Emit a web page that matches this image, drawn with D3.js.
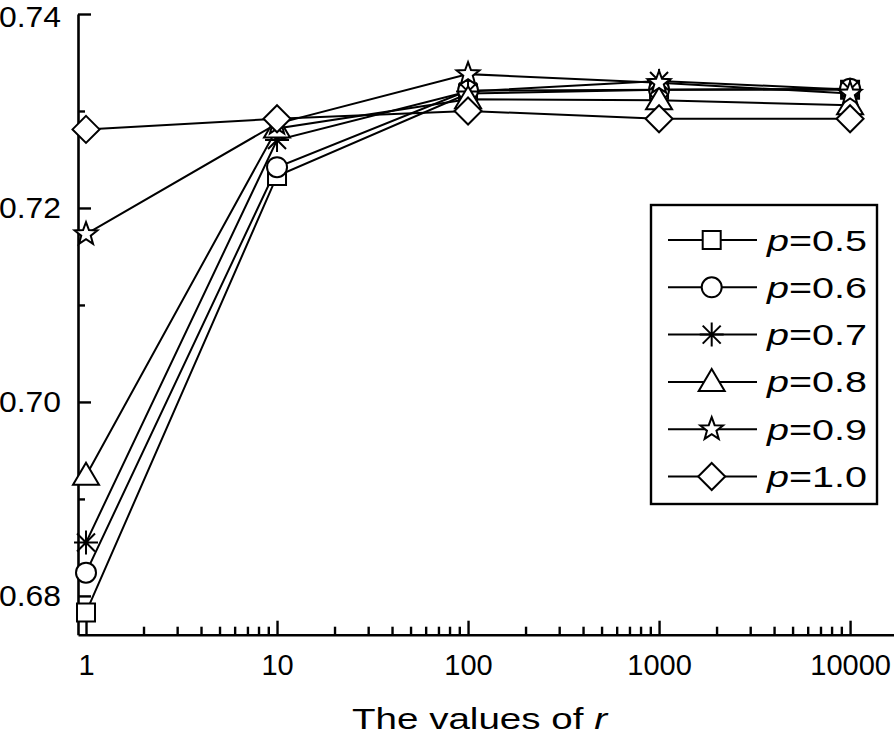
<!DOCTYPE html>
<html><head><meta charset="utf-8">
<script src="https://cdn.jsdelivr.net/npm/d3@7"></script>
<style>
body{margin:0;background:#fff;}
svg{display:block;font-family:"Liberation Sans",Arial,Helvetica,sans-serif;}
</style></head>
<body>
<svg id="chart" width="894" height="734"></svg>
<script>
const rValues = [1, 10, 100, 1000, 10000];
const seriesNames = ["0.5", "0.6", "0.7", "0.8", "0.9", "1.0"];
const seriesSymbols = ["square", "circle", "asterisk", "triangle", "star", "diamond"];
const p05 = [0.6783, 0.7233, 0.7318, 0.7322, 0.7322];
const p06 = [0.6824, 0.7242, 0.7321, 0.7322, 0.7323];
const p07 = [0.6855, 0.7270, 0.7320, 0.7331, 0.7322];
const p08 = [0.6924, 0.7282, 0.7312, 0.7311, 0.7306];
const p09 = [0.7173, 0.7287, 0.7338, 0.7329, 0.7318];
const p10 = [0.7281, 0.7292, 0.7300, 0.7292, 0.7292];
const seriesValues = [p05, p06, p07, p08, p09, p10];
const yMajorTicks = [0.68, 0.70, 0.72, 0.74];
const yMinorTicks = [0.69, 0.71, 0.73];
const xTickLabels = ["1", "10", "100", "1000", "10000"];

const svg = d3.select("#chart");
const x = d3.scaleLog().domain([0.908, 16980]).range([78, 894]);
const y = d3.scaleLinear().domain([0.676, 0.74]).range([634.7, 14]);

function symbolPath(type) {
  const p = d3.path();
  if (type === "square") { p.rect(-9, -9, 18, 18); }
  else if (type === "circle") { p.moveTo(10, 0); p.arc(0, 0, 10, 0, 2 * Math.PI); }
  else if (type === "triangle") { p.moveTo(0, -13); p.lineTo(13, 9); p.lineTo(-13, 9); p.closePath(); }
  else if (type === "diamond") { p.moveTo(0, -13.5); p.lineTo(13.5, 0); p.lineTo(0, 13.5); p.lineTo(-13.5, 0); p.closePath(); }
  else if (type === "star") {
    for (let i = 0; i < 10; i++) {
      const r = i % 2 === 0 ? 12 : 5;
      const a = -Math.PI / 2 + i * Math.PI / 5;
      const px = r * Math.cos(a), py = r * Math.sin(a);
      if (i === 0) p.moveTo(px, py); else p.lineTo(px, py);
    }
    p.closePath();
  } else if (type === "asterisk") {
    const s = 12, d = 9;
    p.moveTo(0, -s); p.lineTo(0, s);
    p.moveTo(-s, 0); p.lineTo(s, 0);
    p.moveTo(-d, -d); p.lineTo(d, d);
    p.moveTo(-d, d); p.lineTo(d, -d);
  }
  return p.toString();
}

// Axes
const yAxis = d3.axisLeft(y).tickValues(yMajorTicks).tickSize(-13).tickSizeOuter(0)
  .tickPadding(17).tickFormat(d3.format(".2f"));
const gy = svg.append("g").attr("transform", "translate(78,0)").call(yAxis);
svg.append("g").attr("transform", "translate(78,0)")
  .call(d3.axisLeft(y).tickValues(yMinorTicks).tickSize(-7).tickSizeOuter(0).tickFormat(""))
  .select(".domain").remove();

const xAxis = d3.axisBottom(x).tickValues(rValues).tickSize(-14).tickSizeOuter(0)
  .tickPadding(20).tickFormat((d, i) => xTickLabels[i]);
const gx = svg.append("g").attr("transform", "translate(0,634.7)").call(xAxis);
const minor = [];
[1, 10, 100, 1000, 10000].forEach(dec => { for (let k = 2; k <= 9; k++) minor.push(dec * k); });
svg.append("g").attr("transform", "translate(0,634.7)")
  .call(d3.axisBottom(x).tickValues(minor.filter(v => v < 16980)).tickSize(-8).tickSizeOuter(0).tickFormat(""))
  .select(".domain").remove();

svg.selectAll(".domain").attr("stroke", "#000").attr("stroke-width", 2.6);
svg.selectAll(".tick line").attr("stroke", "#000").attr("stroke-width", 2.4);
svg.selectAll(".tick text").attr("font-size", 29).attr("fill", "#000")
  .attr("font-family", "'Liberation Sans', Arial, sans-serif");
gy.selectAll(".tick text").attr("textLength", 62).attr("lengthAdjust", "spacingAndGlyphs")
  .attr("dy", d => d === 0.74 ? "0.42em" : "0.34em");

// Lines
const line = d3.line().x((d, i) => x(rValues[i])).y(d => y(d));
seriesValues.forEach((vals, si) => {
  svg.append("path").datum(vals).attr("d", line)
    .attr("fill", "none").attr("stroke", "#000").attr("stroke-width", 2);
});
// Markers
seriesValues.forEach((vals, si) => {
  svg.append("g").selectAll("path").data(vals).join("path")
    .attr("transform", (d, i) => `translate(${x(rValues[i])},${y(d)})`)
    .attr("d", symbolPath(seriesSymbols[si]))
    .attr("fill", seriesSymbols[si] === "asterisk" ? "none" : "#fff")
    .attr("stroke", "#000").attr("stroke-width", 2);
});

// Legend
const lg = svg.append("g");
lg.append("rect").attr("x", 651).attr("y", 205).attr("width", 226).attr("height", 299)
  .attr("fill", "#fff").attr("stroke", "#000").attr("stroke-width", 2.4);
seriesNames.forEach((name, i) => {
  const cy = 240 + i * 47.3;
  lg.append("line").attr("x1", 668).attr("x2", 757).attr("y1", cy).attr("y2", cy)
    .attr("stroke", "#000").attr("stroke-width", 2);
  lg.append("path").attr("transform", `translate(711.7,${cy})`)
    .attr("d", symbolPath(seriesSymbols[i]))
    .attr("fill", seriesSymbols[i] === "asterisk" ? "none" : "#fff")
    .attr("stroke", "#000").attr("stroke-width", 2);
  const t = lg.append("text").attr("x", 767).attr("y", cy + 10.5).attr("font-size", 29)
    .attr("textLength", 100).attr("lengthAdjust", "spacingAndGlyphs");
  t.append("tspan").attr("font-style", "italic").text("p");
  t.append("tspan").text("=" + name);
});

// Title
const tt = svg.append("text").attr("x", 479.5).attr("y", 729).attr("text-anchor", "middle")
  .attr("font-size", 29).attr("textLength", 255).attr("lengthAdjust", "spacingAndGlyphs");
tt.append("tspan").text("The values of ");
tt.append("tspan").attr("font-style", "italic").text("r");
</script>
</body></html>
